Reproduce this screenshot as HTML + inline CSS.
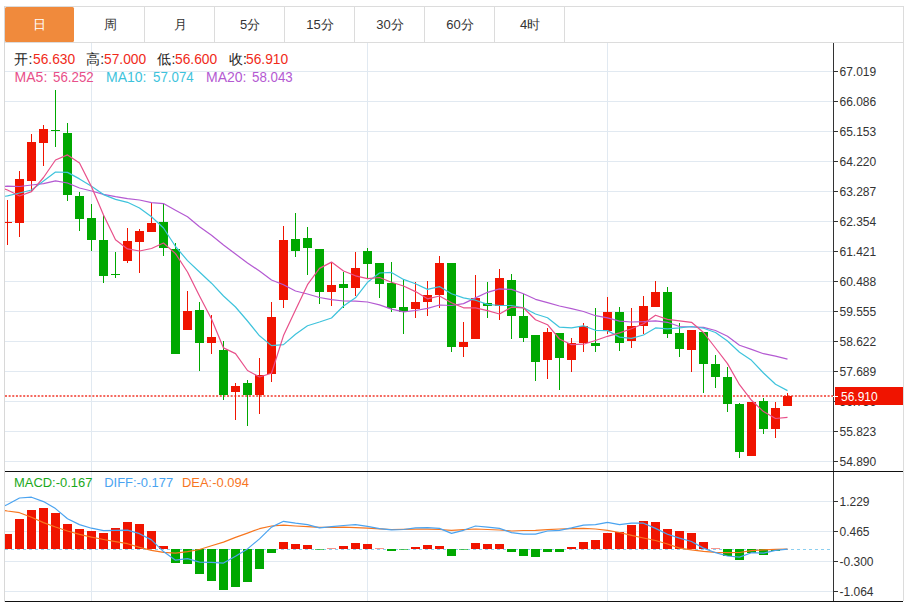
<!DOCTYPE html>
<html><head><meta charset="utf-8">
<style>
html,body{margin:0;padding:0;background:#fff;width:909px;height:602px;overflow:hidden;}
body{position:relative;font-family:"Liberation Sans",sans-serif;}
svg{position:absolute;left:0;top:0;}
.tab{position:absolute;top:7px;height:35px;text-align:center;line-height:35px;font-size:13px;color:#333;}
.info{position:absolute;white-space:nowrap;line-height:20px;}
.ax{font-family:"Liberation Sans",sans-serif;font-size:12px;fill:#333;}
</style></head><body>
<svg width="909" height="602" viewBox="0 0 909 602">
<defs>
<clipPath id="pc"><rect x="5" y="43" width="828" height="428"/></clipPath>
<clipPath id="mc"><rect x="5" y="472" width="828" height="129"/></clipPath>
</defs>
<rect x="5" y="71" width="828" height="1" fill="#e1e9f1"/>
<rect x="5" y="101" width="828" height="1" fill="#e1e9f1"/>
<rect x="5" y="131" width="828" height="1" fill="#e1e9f1"/>
<rect x="5" y="161" width="828" height="1" fill="#e1e9f1"/>
<rect x="5" y="191" width="828" height="1" fill="#e1e9f1"/>
<rect x="5" y="221" width="828" height="1" fill="#e1e9f1"/>
<rect x="5" y="251" width="828" height="1" fill="#e1e9f1"/>
<rect x="5" y="281" width="828" height="1" fill="#e1e9f1"/>
<rect x="5" y="311" width="828" height="1" fill="#e1e9f1"/>
<rect x="5" y="341" width="828" height="1" fill="#e1e9f1"/>
<rect x="5" y="371" width="828" height="1" fill="#e1e9f1"/>
<rect x="5" y="401" width="828" height="1" fill="#e1e9f1"/>
<rect x="5" y="431" width="828" height="1" fill="#e1e9f1"/>
<rect x="5" y="461" width="828" height="1" fill="#e1e9f1"/>
<rect x="5" y="501" width="828" height="1" fill="#e1e9f1"/>
<rect x="5" y="531" width="828" height="1" fill="#e1e9f1"/>
<rect x="5" y="561" width="828" height="1" fill="#e1e9f1"/>
<rect x="5" y="591" width="828" height="1" fill="#e1e9f1"/>
<rect x="91" y="43" width="1" height="558" fill="#e1e9f1"/>
<rect x="367" y="43" width="1" height="558" fill="#e1e9f1"/>
<rect x="607" y="43" width="1" height="558" fill="#e1e9f1"/>
<line x1="5" y1="396" x2="833" y2="396" stroke="#f4685e" stroke-width="2" stroke-dasharray="2,1.64"/>
<g clip-path="url(#pc)">
<rect x="7" y="200" width="1" height="45" fill="#f01400"/>
<rect x="3" y="222" width="9" height="1" fill="#f01400"/>
<rect x="19" y="171" width="1" height="66" fill="#f01400"/>
<rect x="15" y="179" width="9" height="44" fill="#f01400"/>
<rect x="31" y="134" width="1" height="58" fill="#f01400"/>
<rect x="27" y="142" width="9" height="39" fill="#f01400"/>
<rect x="43" y="125" width="1" height="41" fill="#f01400"/>
<rect x="39" y="129" width="9" height="14" fill="#f01400"/>
<rect x="55" y="90" width="1" height="57" fill="#00a800"/>
<rect x="51" y="130" width="9" height="1" fill="#00a800"/>
<rect x="67" y="123" width="1" height="78" fill="#00a800"/>
<rect x="63" y="133" width="9" height="62" fill="#00a800"/>
<rect x="79" y="192" width="1" height="39" fill="#00a800"/>
<rect x="75" y="196" width="9" height="23" fill="#00a800"/>
<rect x="91" y="204" width="1" height="47" fill="#00a800"/>
<rect x="87" y="218" width="9" height="22" fill="#00a800"/>
<rect x="103" y="215" width="1" height="68" fill="#00a800"/>
<rect x="99" y="240" width="9" height="36" fill="#00a800"/>
<rect x="115" y="252" width="1" height="26" fill="#00a800"/>
<rect x="111" y="274" width="9" height="1" fill="#00a800"/>
<rect x="127" y="228" width="1" height="35" fill="#f01400"/>
<rect x="123" y="241" width="9" height="20" fill="#f01400"/>
<rect x="139" y="229" width="1" height="44" fill="#f01400"/>
<rect x="135" y="231" width="9" height="11" fill="#f01400"/>
<rect x="151" y="203" width="1" height="29" fill="#f01400"/>
<rect x="147" y="223" width="9" height="9" fill="#f01400"/>
<rect x="163" y="204" width="1" height="52" fill="#00a800"/>
<rect x="159" y="222" width="9" height="26" fill="#00a800"/>
<rect x="175" y="243" width="1" height="111" fill="#00a800"/>
<rect x="171" y="249" width="9" height="105" fill="#00a800"/>
<rect x="187" y="291" width="1" height="39" fill="#f01400"/>
<rect x="183" y="311" width="9" height="19" fill="#f01400"/>
<rect x="199" y="302" width="1" height="69" fill="#00a800"/>
<rect x="195" y="310" width="9" height="33" fill="#00a800"/>
<rect x="211" y="315" width="1" height="39" fill="#f01400"/>
<rect x="207" y="337" width="9" height="6" fill="#f01400"/>
<rect x="223" y="341" width="1" height="59" fill="#00a800"/>
<rect x="219" y="350" width="9" height="45" fill="#00a800"/>
<rect x="235" y="383" width="1" height="37" fill="#f01400"/>
<rect x="231" y="386" width="9" height="6" fill="#f01400"/>
<rect x="247" y="380" width="1" height="46" fill="#00a800"/>
<rect x="243" y="383" width="9" height="12" fill="#00a800"/>
<rect x="259" y="358" width="1" height="56" fill="#f01400"/>
<rect x="255" y="375" width="9" height="20" fill="#f01400"/>
<rect x="271" y="302" width="1" height="80" fill="#f01400"/>
<rect x="267" y="317" width="9" height="57" fill="#f01400"/>
<rect x="283" y="226" width="1" height="82" fill="#f01400"/>
<rect x="279" y="240" width="9" height="60" fill="#f01400"/>
<rect x="295" y="213" width="1" height="44" fill="#00a800"/>
<rect x="291" y="239" width="9" height="12" fill="#00a800"/>
<rect x="307" y="227" width="1" height="48" fill="#00a800"/>
<rect x="303" y="238" width="9" height="10" fill="#00a800"/>
<rect x="319" y="249" width="1" height="55" fill="#00a800"/>
<rect x="315" y="249" width="9" height="43" fill="#00a800"/>
<rect x="331" y="262" width="1" height="44" fill="#f01400"/>
<rect x="327" y="285" width="9" height="7" fill="#f01400"/>
<rect x="343" y="272" width="1" height="36" fill="#00a800"/>
<rect x="339" y="284" width="9" height="4" fill="#00a800"/>
<rect x="355" y="252" width="1" height="44" fill="#f01400"/>
<rect x="351" y="268" width="9" height="20" fill="#f01400"/>
<rect x="367" y="248" width="1" height="31" fill="#00a800"/>
<rect x="363" y="251" width="9" height="13" fill="#00a800"/>
<rect x="379" y="263" width="1" height="35" fill="#00a800"/>
<rect x="375" y="263" width="9" height="21" fill="#00a800"/>
<rect x="391" y="262" width="1" height="50" fill="#00a800"/>
<rect x="387" y="283" width="9" height="25" fill="#00a800"/>
<rect x="403" y="280" width="1" height="54" fill="#00a800"/>
<rect x="399" y="307" width="9" height="5" fill="#00a800"/>
<rect x="415" y="282" width="1" height="36" fill="#f01400"/>
<rect x="411" y="302" width="9" height="7" fill="#f01400"/>
<rect x="427" y="281" width="1" height="35" fill="#f01400"/>
<rect x="423" y="295" width="9" height="7" fill="#f01400"/>
<rect x="439" y="256" width="1" height="52" fill="#f01400"/>
<rect x="435" y="263" width="9" height="32" fill="#f01400"/>
<rect x="451" y="263" width="1" height="89" fill="#00a800"/>
<rect x="447" y="263" width="9" height="84" fill="#00a800"/>
<rect x="463" y="322" width="1" height="35" fill="#f01400"/>
<rect x="459" y="342" width="9" height="5" fill="#f01400"/>
<rect x="475" y="275" width="1" height="64" fill="#f01400"/>
<rect x="471" y="298" width="9" height="41" fill="#f01400"/>
<rect x="487" y="282" width="1" height="36" fill="#00a800"/>
<rect x="483" y="303" width="9" height="3" fill="#00a800"/>
<rect x="499" y="269" width="1" height="51" fill="#f01400"/>
<rect x="495" y="278" width="9" height="28" fill="#f01400"/>
<rect x="511" y="274" width="1" height="65" fill="#00a800"/>
<rect x="507" y="280" width="9" height="36" fill="#00a800"/>
<rect x="523" y="294" width="1" height="48" fill="#00a800"/>
<rect x="519" y="316" width="9" height="22" fill="#00a800"/>
<rect x="535" y="335" width="1" height="46" fill="#00a800"/>
<rect x="531" y="335" width="9" height="27" fill="#00a800"/>
<rect x="547" y="328" width="1" height="51" fill="#f01400"/>
<rect x="543" y="332" width="9" height="28" fill="#f01400"/>
<rect x="559" y="333" width="1" height="57" fill="#00a800"/>
<rect x="555" y="333" width="9" height="25" fill="#00a800"/>
<rect x="571" y="338" width="1" height="34" fill="#f01400"/>
<rect x="567" y="343" width="9" height="17" fill="#f01400"/>
<rect x="583" y="323" width="1" height="29" fill="#f01400"/>
<rect x="579" y="326" width="9" height="17" fill="#f01400"/>
<rect x="595" y="308" width="1" height="44" fill="#00a800"/>
<rect x="591" y="343" width="9" height="3" fill="#00a800"/>
<rect x="607" y="297" width="1" height="37" fill="#f01400"/>
<rect x="603" y="312" width="9" height="19" fill="#f01400"/>
<rect x="619" y="307" width="1" height="44" fill="#00a800"/>
<rect x="615" y="312" width="9" height="31" fill="#00a800"/>
<rect x="631" y="308" width="1" height="40" fill="#f01400"/>
<rect x="627" y="326" width="9" height="15" fill="#f01400"/>
<rect x="643" y="296" width="1" height="38" fill="#f01400"/>
<rect x="639" y="306" width="9" height="20" fill="#f01400"/>
<rect x="655" y="281" width="1" height="26" fill="#f01400"/>
<rect x="651" y="292" width="9" height="15" fill="#f01400"/>
<rect x="667" y="287" width="1" height="51" fill="#00a800"/>
<rect x="663" y="292" width="9" height="42" fill="#00a800"/>
<rect x="679" y="323" width="1" height="34" fill="#00a800"/>
<rect x="675" y="333" width="9" height="16" fill="#00a800"/>
<rect x="691" y="330" width="1" height="42" fill="#f01400"/>
<rect x="687" y="330" width="9" height="20" fill="#f01400"/>
<rect x="703" y="332" width="1" height="61" fill="#00a800"/>
<rect x="699" y="332" width="9" height="32" fill="#00a800"/>
<rect x="715" y="355" width="1" height="33" fill="#00a800"/>
<rect x="711" y="364" width="9" height="13" fill="#00a800"/>
<rect x="727" y="367" width="1" height="45" fill="#00a800"/>
<rect x="723" y="377" width="9" height="27" fill="#00a800"/>
<rect x="739" y="403" width="1" height="55" fill="#00a800"/>
<rect x="735" y="404" width="9" height="48" fill="#00a800"/>
<rect x="751" y="402" width="1" height="54" fill="#f01400"/>
<rect x="747" y="402" width="9" height="54" fill="#f01400"/>
<rect x="763" y="398" width="1" height="36" fill="#00a800"/>
<rect x="759" y="401" width="9" height="28" fill="#00a800"/>
<rect x="775" y="402" width="1" height="36" fill="#f01400"/>
<rect x="771" y="408" width="9" height="21" fill="#f01400"/>
<rect x="787" y="393" width="1" height="13" fill="#f01400"/>
<rect x="783" y="396" width="9" height="10" fill="#f01400"/>
</g>
<g clip-path="url(#pc)">
<polyline points="-4.5,187.0 7.5,186.2 19.5,186.5 31.5,185.0 43.5,183.7 55.5,180.8 67.5,183.0 79.5,188.0 91.5,191.0 103.5,194.3 115.5,196.6 127.5,198.6 139.5,200.0 151.5,202.7 163.5,203.6 175.5,210.3 187.5,216.8 199.5,226.7 211.5,235.2 223.5,245.0 235.5,254.0 247.5,263.0 259.5,271.0 271.5,280.0 283.5,284.7 295.5,291.0 307.5,294.0 319.5,297.5 331.5,299.7 343.5,301.0 355.5,301.2 367.5,302.0 379.5,304.9 391.5,309.1 403.5,311.9 415.5,310.5 427.5,308.4 439.5,305.0 451.5,305.5 463.5,303.6 475.5,297.9 487.5,292.3 499.5,288.9 511.5,289.4 523.5,293.7 535.5,299.3 547.5,302.7 559.5,306.0 571.5,308.6 583.5,311.5 595.5,315.7 607.5,317.9 619.5,321.1 631.5,322.0 643.5,321.7 655.5,320.8 667.5,322.3 679.5,326.5 691.5,327.0 703.5,327.4 715.5,330.5 727.5,336.2 739.5,345.2 751.5,349.4 763.5,353.7 775.5,356.2 787.5,359.2" fill="none" stroke="#b45ad2" stroke-width="1.2" stroke-linejoin="round"/>
<polyline points="-4.5,198.0 7.5,195.8 19.5,193.0 31.5,190.0 43.5,181.0 55.5,172.0 67.5,172.4 79.5,178.9 91.5,186.2 103.5,194.6 115.5,199.4 127.5,202.3 139.5,208.0 151.5,216.8 163.5,228.0 175.5,246.5 187.5,260.6 199.5,272.0 211.5,283.2 223.5,296.0 235.5,307.0 247.5,321.0 259.5,335.8 271.5,345.6 283.5,344.6 295.5,334.2 307.5,325.7 319.5,322.0 331.5,318.0 343.5,306.0 355.5,297.8 367.5,282.3 379.5,273.0 391.5,272.4 403.5,279.4 415.5,283.7 427.5,289.4 439.5,286.6 451.5,293.7 463.5,297.9 475.5,300.2 487.5,304.4 499.5,305.5 511.5,305.5 523.5,307.8 535.5,314.0 547.5,317.7 559.5,327.2 571.5,327.8 583.5,325.8 595.5,330.3 607.5,330.6 619.5,337.1 631.5,338.4 643.5,335.0 655.5,327.9 667.5,328.8 679.5,327.9 691.5,326.5 703.5,328.2 715.5,332.5 727.5,341.0 739.5,352.3 751.5,360.3 763.5,373.0 775.5,384.3 787.5,390.6" fill="none" stroke="#3ec3dc" stroke-width="1.2" stroke-linejoin="round"/>
<polyline points="-4.5,186.0 7.5,190.0 19.5,196.0 31.5,191.6 43.5,177.5 55.5,160.0 67.5,154.9 79.5,163.0 91.5,186.7 103.5,215.0 115.5,239.8 127.5,248.9 139.5,251.0 151.5,248.5 163.5,243.0 175.5,253.6 187.5,272.0 199.5,296.0 211.5,319.0 223.5,347.9 235.5,353.6 247.5,370.5 259.5,377.0 271.5,373.3 283.5,335.6 295.5,310.0 307.5,284.7 319.5,268.4 331.5,262.1 343.5,271.0 355.5,275.8 367.5,278.6 379.5,277.5 391.5,282.3 403.5,286.0 415.5,291.6 427.5,298.8 439.5,296.0 451.5,302.7 463.5,307.8 475.5,307.8 487.5,310.6 499.5,314.0 511.5,307.2 523.5,307.8 535.5,319.7 547.5,324.7 559.5,339.0 571.5,344.7 583.5,344.2 595.5,340.5 607.5,336.3 619.5,332.9 631.5,328.8 643.5,323.7 655.5,315.2 667.5,319.4 679.5,320.8 691.5,322.3 703.5,332.5 715.5,348.0 727.5,363.6 739.5,384.7 751.5,400.3 763.5,411.6 775.5,418.5 787.5,417.3" fill="none" stroke="#e8508a" stroke-width="1.2" stroke-linejoin="round"/>
</g>
<line x1="5" y1="549.5" x2="833" y2="549.5" stroke="#8ccff0" stroke-width="1" stroke-dasharray="3,3"/>
<g clip-path="url(#mc)">
<rect x="3" y="534" width="9" height="15" fill="#f01400"/>
<rect x="15" y="519" width="9" height="30" fill="#f01400"/>
<rect x="27" y="510" width="9" height="39" fill="#f01400"/>
<rect x="39" y="508" width="9" height="41" fill="#f01400"/>
<rect x="51" y="513" width="9" height="36" fill="#f01400"/>
<rect x="63" y="524" width="9" height="25" fill="#f01400"/>
<rect x="75" y="529" width="9" height="20" fill="#f01400"/>
<rect x="87" y="531" width="9" height="18" fill="#f01400"/>
<rect x="99" y="533" width="9" height="16" fill="#f01400"/>
<rect x="111" y="528" width="9" height="21" fill="#f01400"/>
<rect x="123" y="522" width="9" height="27" fill="#f01400"/>
<rect x="135" y="524" width="9" height="25" fill="#f01400"/>
<rect x="147" y="531" width="9" height="18" fill="#f01400"/>
<rect x="159" y="546" width="9" height="3" fill="#f01400"/>
<rect x="171" y="549" width="9" height="14" fill="#00a800"/>
<rect x="183" y="549" width="9" height="15" fill="#00a800"/>
<rect x="195" y="549" width="9" height="25" fill="#00a800"/>
<rect x="207" y="549" width="9" height="32" fill="#00a800"/>
<rect x="219" y="549" width="9" height="41" fill="#00a800"/>
<rect x="231" y="549" width="9" height="38" fill="#00a800"/>
<rect x="243" y="549" width="9" height="33" fill="#00a800"/>
<rect x="255" y="549" width="9" height="20" fill="#00a800"/>
<rect x="267" y="549" width="9" height="4" fill="#00a800"/>
<rect x="279" y="542" width="9" height="7" fill="#f01400"/>
<rect x="291" y="544" width="9" height="5" fill="#f01400"/>
<rect x="303" y="545" width="9" height="4" fill="#f01400"/>
<rect x="315" y="549" width="9" height="1" fill="#00a800" opacity="0.6"/>
<rect x="327" y="548" width="9" height="1" fill="#f01400" opacity="0.45"/>
<rect x="339" y="546" width="9" height="3" fill="#f01400"/>
<rect x="351" y="543" width="9" height="6" fill="#f01400"/>
<rect x="363" y="544" width="9" height="5" fill="#f01400"/>
<rect x="375" y="548" width="9" height="1" fill="#f01400" opacity="0.45"/>
<rect x="387" y="549" width="9" height="2" fill="#00a800"/>
<rect x="399" y="549" width="9" height="1" fill="#00a800" opacity="0.6"/>
<rect x="411" y="547" width="9" height="2" fill="#f01400"/>
<rect x="423" y="545" width="9" height="4" fill="#f01400"/>
<rect x="435" y="546" width="9" height="3" fill="#f01400"/>
<rect x="447" y="549" width="9" height="7" fill="#00a800"/>
<rect x="459" y="549" width="9" height="1" fill="#00a800" opacity="0.6"/>
<rect x="471" y="543" width="9" height="6" fill="#f01400"/>
<rect x="483" y="544" width="9" height="5" fill="#f01400"/>
<rect x="495" y="544" width="9" height="5" fill="#f01400"/>
<rect x="507" y="549" width="9" height="3" fill="#00a800"/>
<rect x="519" y="549" width="9" height="7" fill="#00a800"/>
<rect x="531" y="549" width="9" height="8" fill="#00a800"/>
<rect x="543" y="549" width="9" height="3" fill="#00a800"/>
<rect x="555" y="549" width="9" height="3" fill="#00a800"/>
<rect x="567" y="547" width="9" height="2" fill="#f01400"/>
<rect x="579" y="542" width="9" height="7" fill="#f01400"/>
<rect x="591" y="540" width="9" height="9" fill="#f01400"/>
<rect x="603" y="533" width="9" height="16" fill="#f01400"/>
<rect x="615" y="532" width="9" height="17" fill="#f01400"/>
<rect x="627" y="525" width="9" height="24" fill="#f01400"/>
<rect x="639" y="521" width="9" height="28" fill="#f01400"/>
<rect x="651" y="522" width="9" height="27" fill="#f01400"/>
<rect x="663" y="529" width="9" height="20" fill="#f01400"/>
<rect x="675" y="531" width="9" height="18" fill="#f01400"/>
<rect x="687" y="533" width="9" height="16" fill="#f01400"/>
<rect x="699" y="542" width="9" height="7" fill="#f01400"/>
<rect x="711" y="548" width="9" height="1" fill="#f01400" opacity="0.45"/>
<rect x="723" y="549" width="9" height="7" fill="#00a800"/>
<rect x="735" y="549" width="9" height="11" fill="#00a800"/>
<rect x="747" y="549" width="9" height="4" fill="#00a800"/>
<rect x="759" y="549" width="9" height="6" fill="#00a800"/>
<rect x="771" y="549" width="9" height="2" fill="#00a800"/>
<polyline points="-4.5,509.0 7.5,511.0 19.5,512.7 31.5,517.3 43.5,522.6 55.5,527.0 67.5,531.0 79.5,534.4 91.5,537.1 103.5,539.5 115.5,541.7 127.5,543.7 139.5,547.4 151.5,550.3 163.5,552.4 175.5,553.1 187.5,551.6 199.5,549.5 211.5,545.7 223.5,542.1 235.5,537.4 247.5,533.1 259.5,528.7 271.5,526.0 283.5,525.2 295.5,526.0 307.5,526.6 319.5,527.4 331.5,527.3 343.5,527.1 355.5,527.6 367.5,528.2 379.5,528.8 391.5,529.5 403.5,529.3 415.5,529.2 427.5,529.2 439.5,529.5 451.5,530.3 463.5,529.6 475.5,529.0 487.5,529.5 499.5,530.0 511.5,531.0 523.5,530.5 535.5,530.3 547.5,529.6 559.5,529.0 571.5,528.6 583.5,528.4 595.5,529.0 607.5,530.3 619.5,532.5 631.5,535.3 643.5,538.0 655.5,540.5 667.5,544.0 679.5,548.1 691.5,549.9 703.5,551.4 715.5,552.3 727.5,552.7 739.5,552.5 751.5,550.7 763.5,549.8 775.5,549.4 787.5,549.2" fill="none" stroke="#f7761f" stroke-width="1.2" stroke-linejoin="round"/>
<polyline points="-4.5,510.0 7.5,504.5 19.5,498.0 31.5,497.2 43.5,501.6 55.5,508.6 67.5,518.8 79.5,524.6 91.5,528.2 103.5,530.7 115.5,530.4 127.5,530.2 139.5,533.7 151.5,539.9 163.5,551.6 175.5,560.2 187.5,558.7 199.5,562.1 211.5,562.3 223.5,563.1 235.5,556.3 247.5,548.9 259.5,538.9 271.5,527.1 283.5,521.3 295.5,523.2 307.5,524.7 319.5,527.9 331.5,526.6 343.5,525.5 355.5,524.7 367.5,526.3 379.5,528.7 391.5,529.9 403.5,529.5 415.5,527.9 427.5,527.6 439.5,528.4 451.5,533.4 463.5,530.3 475.5,526.0 487.5,527.1 499.5,528.4 511.5,532.6 523.5,534.2 535.5,534.2 547.5,531.0 559.5,530.3 571.5,527.9 583.5,525.2 595.5,524.7 607.5,522.4 619.5,524.7 631.5,523.2 643.5,523.2 655.5,528.4 667.5,534.2 679.5,538.1 691.5,541.5 703.5,548.1 715.5,552.7 727.5,556.0 739.5,557.1 751.5,552.7 763.5,553.1 775.5,550.3 787.5,549.2" fill="none" stroke="#4aa3f0" stroke-width="1.2" stroke-linejoin="round"/>
</g>
<rect x="833" y="43" width="1" height="558" fill="#333"/>
<rect x="5" y="471" width="898" height="1" fill="#111"/>
<rect x="5" y="601" width="898" height="1" fill="#111"/>
<rect x="833" y="71" width="5" height="1" fill="#333"/>
<text x="839.5" y="75.5" class="ax">67.019</text>
<rect x="833" y="101" width="5" height="1" fill="#333"/>
<text x="839.5" y="105.5" class="ax">66.086</text>
<rect x="833" y="131" width="5" height="1" fill="#333"/>
<text x="839.5" y="135.5" class="ax">65.153</text>
<rect x="833" y="161" width="5" height="1" fill="#333"/>
<text x="839.5" y="165.5" class="ax">64.220</text>
<rect x="833" y="191" width="5" height="1" fill="#333"/>
<text x="839.5" y="195.5" class="ax">63.287</text>
<rect x="833" y="221" width="5" height="1" fill="#333"/>
<text x="839.5" y="225.5" class="ax">62.354</text>
<rect x="833" y="251" width="5" height="1" fill="#333"/>
<text x="839.5" y="255.5" class="ax">61.421</text>
<rect x="833" y="281" width="5" height="1" fill="#333"/>
<text x="839.5" y="285.5" class="ax">60.488</text>
<rect x="833" y="311" width="5" height="1" fill="#333"/>
<text x="839.5" y="315.5" class="ax">59.555</text>
<rect x="833" y="341" width="5" height="1" fill="#333"/>
<text x="839.5" y="345.5" class="ax">58.622</text>
<rect x="833" y="371" width="5" height="1" fill="#333"/>
<text x="839.5" y="375.5" class="ax">57.689</text>
<rect x="833" y="401" width="5" height="1" fill="#333"/>
<text x="839.5" y="405.5" class="ax">56.756</text>
<rect x="833" y="431" width="5" height="1" fill="#333"/>
<text x="839.5" y="435.5" class="ax">55.823</text>
<rect x="833" y="461" width="5" height="1" fill="#333"/>
<text x="839.5" y="465.5" class="ax">54.890</text>
<rect x="833" y="501" width="5" height="1" fill="#333"/>
<text x="839.5" y="505.5" class="ax">1.229</text>
<rect x="833" y="531" width="5" height="1" fill="#333"/>
<text x="839.5" y="535.5" class="ax">0.465</text>
<rect x="833" y="561" width="5" height="1" fill="#333"/>
<text x="839.5" y="565.5" class="ax">-0.300</text>
<rect x="833" y="591" width="5" height="1" fill="#333"/>
<text x="839.5" y="595.5" class="ax">-1.064</text>
<rect x="835" y="387" width="68" height="18" fill="#f01400"/>
<rect x="833" y="396" width="5" height="1" fill="#fff"/>
<text x="841" y="400.5" class="ax" style="fill:#fff">56.910</text>
<rect x="4" y="6" width="900" height="1" fill="#dcdcdc"/>
<rect x="4" y="6" width="1" height="596" fill="#d8d8d8"/>
<rect x="903" y="6" width="1" height="595" fill="#dcdcdc"/>
<rect x="5" y="42" width="898" height="1" fill="#dcdcdc"/>
<rect x="144" y="7" width="1" height="35" fill="#dcdcdc"/>
<rect x="214" y="7" width="1" height="35" fill="#dcdcdc"/>
<rect x="284" y="7" width="1" height="35" fill="#dcdcdc"/>
<rect x="354" y="7" width="1" height="35" fill="#dcdcdc"/>
<rect x="424" y="7" width="1" height="35" fill="#dcdcdc"/>
<rect x="494" y="7" width="1" height="35" fill="#dcdcdc"/>
<rect x="564" y="7" width="1" height="35" fill="#dcdcdc"/>
<rect x="5" y="7" width="69" height="35" rx="1.5" fill="#f08a3c"/>
</svg>
<div class="tab" style="left:5px;width:69px;color:#fff">日</div>
<div class="tab" style="left:75px;width:70px">周</div>
<div class="tab" style="left:145px;width:70px">月</div>
<div class="tab" style="left:215px;width:70px">5分</div>
<div class="tab" style="left:285px;width:70px">15分</div>
<div class="tab" style="left:355px;width:70px">30分</div>
<div class="tab" style="left:425px;width:70px">60分</div>
<div class="tab" style="left:495px;width:70px">4时</div>
<div class="info" style="left:14.4px;top:49px;font-size:14px;color:#222">开:</div>
<div class="info" style="left:32.5px;top:49px;font-size:14px;color:#f02a1a;transform:scaleX(0.985);transform-origin:0 0">56.630</div>
<div class="info" style="left:86.3px;top:49px;font-size:14px;color:#222">高:</div>
<div class="info" style="left:104.1px;top:49px;font-size:14px;color:#f02a1a;transform:scaleX(0.985);transform-origin:0 0">57.000</div>
<div class="info" style="left:157.4px;top:49px;font-size:14px;color:#222">低:</div>
<div class="info" style="left:175.4px;top:49px;font-size:14px;color:#f02a1a;transform:scaleX(0.985);transform-origin:0 0">56.600</div>
<div class="info" style="left:229px;top:49px;font-size:14px;color:#222">收:</div>
<div class="info" style="left:246.4px;top:49px;font-size:14px;color:#f02a1a;transform:scaleX(0.985);transform-origin:0 0">56.910</div>
<div class="info" style="left:14.6px;top:66.7px;font-size:14px;color:#e8508a">MA5:</div>
<div class="info" style="left:53.2px;top:66.7px;font-size:14px;color:#e8508a;transform:scaleX(0.95);transform-origin:0 0">56.252</div>
<div class="info" style="left:106.0px;top:66.7px;font-size:14px;color:#3ec3dc">MA10:</div>
<div class="info" style="left:152.8px;top:66.7px;font-size:14px;color:#3ec3dc;transform:scaleX(0.95);transform-origin:0 0">57.074</div>
<div class="info" style="left:206.0px;top:66.7px;font-size:14px;color:#b45ad2">MA20:</div>
<div class="info" style="left:251.5px;top:66.7px;font-size:14px;color:#b45ad2;transform:scaleX(0.95);transform-origin:0 0">58.043</div>
<div class="info" style="left:14px;top:473px;font-size:12.95px;color:#1aa81a">MACD:-0.167</div>
<div class="info" style="left:104.2px;top:473px;font-size:12.95px;color:#4aa3f0">DIFF:-0.177</div>
<div class="info" style="left:182px;top:473px;font-size:12.95px;color:#f7761f">DEA:-0.094</div>
</body></html>
